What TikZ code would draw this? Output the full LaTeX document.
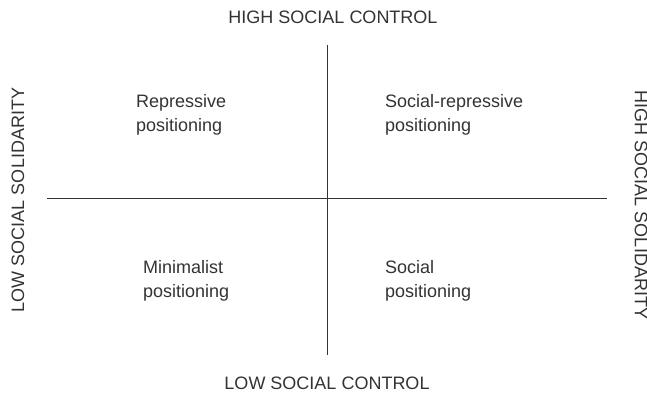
\documentclass[tikz,border=0pt]{standalone}
\usepackage{fontspec}
\setmainfont{Liberation Sans}
\begin{document}
\begin{tikzpicture}[x=1pt, y=-1pt, axis/.style={draw=black!80, line width=1pt},
    lbl/.style={inner sep=0pt, text=black!80, font=\fontsize{18}{24}\selectfont},
    quad/.style={lbl, align=left, anchor=west}]
    \useasboundingbox (0,0) rectangle (647,395);
    \coordinate (n) at (327,45);
    \coordinate (s) at (327,355);
    \coordinate (w) at (47,199);
    \coordinate (e) at (607,199);
    \draw [axis] (n) -- (s);
    \draw [axis] (w) -- (e);
    \node [lbl] (hictrl) at (333,17) {HIGH SOCIAL CONTROL};
    \node [lbl] (loctrl) at (327,383) {LOW SOCIAL CONTROL};
    \node [lbl, rotate=90] (losol) at (18,200) {LOW SOCIAL SOLIDARITY};
    \node [lbl, rotate=-90] (hisol) at (641,205) {HIGH SOCIAL SOLIDARITY};
    \node [quad] (repr) at (136,115) {Repressive\\positioning};
    \node [quad] (socrepr) at (385,115) {Social-repressive\\positioning};
    \node [quad] (minim) at (143,281) {Minimalist\\positioning};
    \node [quad] (soc) at (385,281) {Social\\positioning};
\end{tikzpicture}
\end{document}
